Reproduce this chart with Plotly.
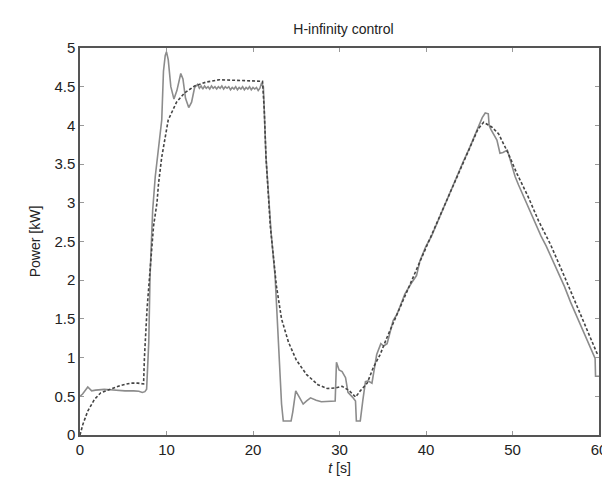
import plotly.graph_objects as go

# Measured power (solid line)
t_meas = [0, 0.3, 0.9, 1.35, 1.8, 2.8, 3.5, 4.3, 5.2, 6.2, 6.8, 7.2, 7.5, 7.7, 7.95, 8.1, 8.4, 8.7,
          9.08, 9.45, 9.65, 9.85, 10.0, 10.2, 10.5, 10.86, 11.2, 11.65, 11.9, 12.2, 12.57, 12.9,
          13.25, 13.6, 13.8, 14.0, 14.2, 14.4, 14.6, 14.8, 15.0, 15.2, 15.4, 15.6, 15.8, 16.0,
          16.2, 16.4, 16.6, 16.8, 17.0, 17.2, 17.4, 17.6, 17.8, 18.0, 18.2, 18.4, 18.6, 18.8,
          19.0, 19.2, 19.4, 19.6, 19.8, 20.0, 20.2, 20.4, 20.6, 20.8, 21.0, 21.2,
          21.5, 22.1, 22.55, 22.7, 23.0, 23.3, 23.5, 24.4, 24.6, 24.94, 25.3, 25.8, 26.2, 26.65,
          27.3, 27.9, 29.5, 29.65, 29.95, 30.3, 30.7, 30.98, 31.5, 31.85, 31.95, 32.4, 32.7,
          33.0, 33.3, 33.75, 34.3, 34.78, 35.1, 35.3, 35.5, 36.2, 36.6, 37.0, 37.55, 38.3, 38.9,
          39.3, 40.0, 40.6, 41.2, 42.0, 42.7, 43.5, 44.3, 45.0, 45.8, 46.5, 46.85, 47.2, 47.3,
          47.5, 48.2, 48.55, 48.9, 49.4, 49.7, 50.3, 50.7, 51.8, 52.5, 53.3, 53.9, 55.2, 56.0,
          56.7, 57.5, 58.2, 58.8, 59.2, 59.55, 59.6, 60.0]
p_meas = [0.50, 0.53, 0.62, 0.57, 0.58, 0.59, 0.585, 0.575, 0.57, 0.57, 0.565, 0.55, 0.56, 0.59,
          1.2, 2.06, 2.9, 3.34, 3.72, 4.07, 4.7, 4.9, 4.95, 4.85, 4.5, 4.34, 4.45, 4.67, 4.6, 4.35,
          4.23, 4.3, 4.49, 4.53, 4.48, 4.51, 4.47, 4.51, 4.48, 4.50, 4.47, 4.51, 4.48, 4.50,
          4.47, 4.50, 4.48, 4.51, 4.47, 4.50, 4.48, 4.50, 4.46, 4.49, 4.47, 4.50, 4.46, 4.49,
          4.47, 4.50, 4.46, 4.49, 4.47, 4.50, 4.46, 4.49, 4.47, 4.49, 4.45, 4.48, 4.55, 4.5,
          3.59, 2.6, 2.06, 1.72, 1.0, 0.4, 0.18, 0.18, 0.3, 0.57, 0.5, 0.40, 0.44, 0.48,
          0.45, 0.43, 0.44, 0.94, 0.84, 0.82, 0.74, 0.55, 0.49, 0.44, 0.18, 0.18, 0.45,
          0.69, 0.70, 0.67, 1.04, 1.18, 1.15, 1.16, 1.18, 1.48, 1.55, 1.66, 1.82, 1.96, 2.06,
          2.25, 2.44, 2.56, 2.72, 2.93, 3.1, 3.32, 3.53, 3.7, 3.92, 4.1, 4.16, 4.15, 4.0,
          3.95, 3.81, 3.64, 3.65, 3.68, 3.57, 3.34, 3.23, 2.95, 2.75, 2.57, 2.44, 2.12, 1.92,
          1.72, 1.52, 1.33, 1.2, 1.1, 0.99, 0.76, 0.76]

# Reference power (dashed line)
t_ref = [0, 0.34, 0.9, 1.67, 2.4, 3.6, 4.7, 5.85, 6.7, 7.35, 7.45, 7.75, 8.05, 8.5, 8.9, 9.08, 9.45,
         9.65, 10.2, 11.16, 12.1, 13.25, 14.6, 16.1, 18.4, 20.5, 21.1, 21.3, 21.5, 22.0, 22.4,
         22.7, 23.3, 24.1, 25.0, 26.2, 27.5, 28.6, 29.6, 30.3, 31.1, 31.86, 32.4, 33.2, 33.9,
         34.7, 35.45, 36.6, 38.0, 40.0, 42.0, 44.0, 46.0, 46.66, 47.6, 48.4, 49.5, 50.5, 51.8,
         53.0, 54.4, 55.96, 57.9, 59.2, 59.75, 60.0]
p_ref = [0.0, 0.14, 0.31, 0.46, 0.545, 0.59, 0.64, 0.67, 0.67, 0.66, 1.0, 1.63, 2.06, 2.7, 3.0, 3.25,
         3.59, 3.72, 4.07, 4.3, 4.42, 4.51, 4.56, 4.59, 4.58, 4.57, 4.57, 4.2, 3.59, 2.7, 2.2,
         1.93, 1.5, 1.2, 0.97, 0.78, 0.65, 0.60, 0.61, 0.63, 0.575, 0.49, 0.57, 0.67, 0.87,
         1.04, 1.25, 1.55, 1.9, 2.42, 2.93, 3.45, 3.95, 4.04, 3.98, 3.89, 3.64, 3.38, 3.08,
         2.77, 2.46, 2.06, 1.55, 1.21, 1.06, 1.03]

x_ticks = [0, 10, 20, 30, 40, 50, 60]
x_tick_labels = ["0", "10", "20", "30", "40", "50", "60"]
y_ticks = [0, 0.5, 1, 1.5, 2, 2.5, 3, 3.5, 4, 4.5, 5]
y_tick_labels = ["0", "0.5", "1", "1.5", "2", "2.5", "3", "3.5", "4", "4.5", "5"]

FONT = "Liberation Sans, Arial, sans-serif"

fig = go.Figure()
fig.add_trace(go.Scatter(x=t_meas, y=p_meas, mode="lines",
                         line=dict(color="#8c8c8c", width=1.6), showlegend=False))
fig.add_trace(go.Scatter(x=t_ref, y=p_ref, mode="lines",
                         line=dict(color="#444444", width=1.6, dash="3px,2px"), showlegend=False))

axis_common = dict(showgrid=False, zeroline=False, showline=True, linecolor="#555555",
                   linewidth=1.5, mirror="allticks", ticks="inside", ticklen=4,
                   tickcolor="#999999", tickwidth=1,
                   tickfont=dict(family=FONT, size=15, color="#222222"))

fig.update_xaxes(range=[0, 60], tickvals=x_ticks, ticktext=x_tick_labels,
                 title=dict(text="<i>t</i> [s]", font=dict(family=FONT, size=14, color="#222222"),
                            standoff=6),
                 **axis_common)
fig.update_yaxes(range=[0, 5], tickvals=y_ticks, ticktext=y_tick_labels,
                 title=dict(text="Power [kW]", font=dict(family=FONT, size=14, color="#222222"),
                            standoff=10),
                 **axis_common)

fig.update_layout(
    width=610, height=477,
    margin=dict(l=72, r=11, t=40, b=46),
    paper_bgcolor="white", plot_bgcolor="white",
    title=dict(text="H-infinity control", x=0.55, xanchor="center", y=0.955, yanchor="middle",
               font=dict(family=FONT, size=14, color="#222222")),
)

fig.write_html("out.html")
